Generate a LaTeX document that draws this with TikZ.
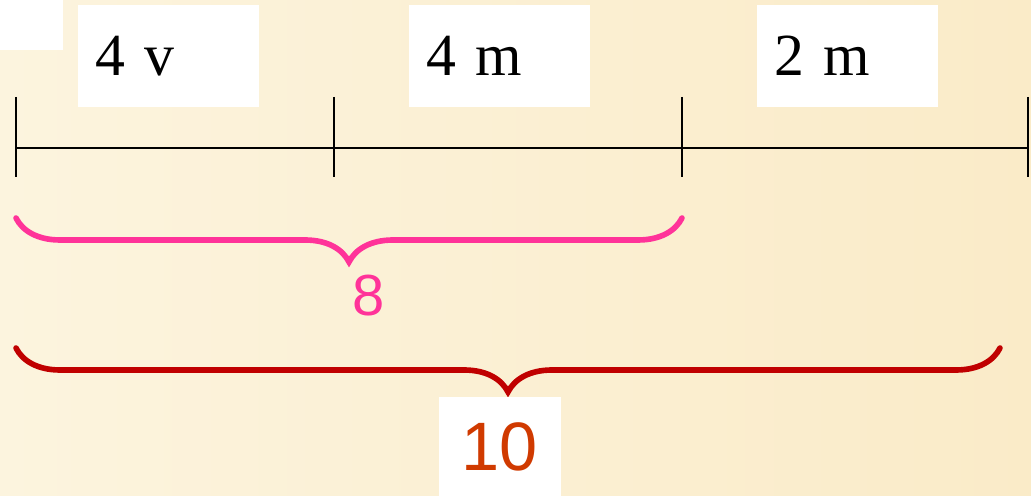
\documentclass[tikz,border=0pt]{standalone}
\usepackage{fontspec}
\setmainfont{Liberation Serif}
\newfontfamily\arialfont{Liberation Sans}
\usetikzlibrary{decorations.pathreplacing, calc, positioning}
\definecolor{bgleft}{HTML}{FCF4DE}
\definecolor{bgright}{HTML}{FAEBC8}
\definecolor{bracepink}{HTML}{FF3399}
\definecolor{bracered}{HTML}{C00000}
\definecolor{numred}{HTML}{D03A00}
\tikzset{
  % casella bianca con il segmento
  segbox/.style={fill=white, minimum height=2.04cm, text width=2.94cm,
    inner xsep=0.34cm, inner ysep=0pt, align=left, font=\fontsize{34}{38}\selectfont},
  % linea dei segmenti
  segline/.style={line width=1.3pt, black},
  % graffa
  bigbrace/.style={decorate, decoration={brace, mirror, amplitude=0.88cm},
    line width=3.2pt, line cap=round},
  % numero sotto la graffa
  bracenum/.style={font=\arialfont\fontsize{33}{38}\selectfont, inner sep=0pt},
}
\begin{document}
\begin{tikzpicture}[x=0.02cm, y=-0.02cm]
  \shade[left color=bgleft, right color=bgright] (0,0) rectangle (1031,496);
  \useasboundingbox (0,0) rectangle (1031,496);
  \fill[white] (0,0) rectangle (63,50);
  % caselle
  \node[segbox] (v4) at (168.5,56) {4 v};
  \node[segbox] (m4) at (499.5,56) {4 m};
  \node[segbox] (m2) at (847.5,56) {2 m};
  % segmenti
  \foreach \x/\n in {16/t0, 334/t1, 682/t2, 1028/t3} {
    \coordinate (\n) at (\x,148);
    \draw[segline] (\x,97) -- (\x,177);
  }
  \draw[segline] (t0) -- (t3);
  % graffe
  \coordinate (p0) at (16,218);
  \coordinate (p1) at (682,218);
  \coordinate (r0) at (16,348);
  \coordinate (r1) at (1000,348);
  \draw[bigbrace, bracepink] (p0) -- (p1);
  \draw[bigbrace, bracered] (r0) -- (r1);
  \node[bracenum, text=bracepink] (eight) at (369,296) {8};
  \node[fill=white, minimum width=2.44cm, minimum height=1.98cm, inner sep=0pt,
    font=\arialfont\fontsize{39}{44}\selectfont, text=numred] (ten) at (500,446.5) {10};
\end{tikzpicture}
\end{document}
